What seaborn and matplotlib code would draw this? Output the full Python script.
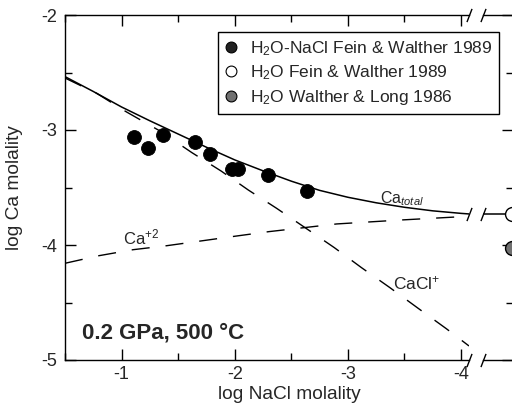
import numpy as np
import pandas as pd
import matplotlib
matplotlib.use('Agg')
import matplotlib.pyplot as plt
import matplotlib.transforms as mtransforms
from matplotlib.lines import Line2D
from matplotlib.ticker import MultipleLocator, FormatStrFormatter
import seaborn as sns

# ---------------- data ----------------
nacl_points = [-1.11, -1.23, -1.37, -1.65, -1.78, -1.98, -2.03, -2.29, -2.64]
ca_points = [-3.06, -3.16, -3.04, -3.10, -3.21, -3.34, -3.34, -3.39, -3.53]

catotal_x = [-0.5, -0.75, -1.0, -1.25, -1.5, -1.75, -2.0, -2.25, -2.5, -2.75,
             -3.0, -3.25, -3.5, -3.75, -4.0, -4.07]
catotal_y = [-2.536, -2.665, -2.80, -2.92, -3.035, -3.15, -3.26, -3.355, -3.445,
             -3.525, -3.585, -3.633, -3.672, -3.703, -3.725, -3.73]

ca2_x = [-0.5, -0.8, -1.1, -1.4, -1.7, -2.0, -2.3, -2.9, -3.46, -4.0, -4.07]
ca2_y = [-4.159, -4.093, -4.041, -4.006, -3.965, -3.924, -3.884, -3.817, -3.783,
         -3.754, -3.748]

cacl_x = [-0.5, -0.78, -1.04, -1.34, -1.62, -1.88, -2.12, -2.37, -2.63, -2.88,
          -3.12, -3.37, -3.62, -3.87, -4.07]
cacl_y = [-2.548, -2.681, -2.841, -3.009, -3.196, -3.357, -3.522, -3.681, -3.855,
          -4.023, -4.197, -4.370, -4.550, -4.728, -4.878]

water_x = [0.0]
water_fw_ca = [-3.73]   # H2O Fein & Walther 1989
water_wl_ca = [-4.03]   # H2O Walther & Long 1986

x_ticks = [-1, -2, -3, -4]
y_ticks = [-2, -3, -4, -5]
legend_labels = [r'H$_2$O-NaCl Fein & Walther 1989',
                 r'H$_2$O Fein & Walther 1989',
                 r'H$_2$O Walther & Long 1986']

# ---------------- style ----------------
sns.set_theme(style='ticks')
plt.rcParams['font.family'] = ['Liberation Sans', 'DejaVu Sans']
plt.rcParams['mathtext.fontset'] = 'custom'
plt.rcParams['mathtext.rm'] = 'Liberation Sans'
plt.rcParams['mathtext.it'] = 'Liberation Sans:italic'
plt.rcParams['mathtext.bf'] = 'Liberation Sans:bold'
plt.rcParams['axes.unicode_minus'] = False

W, H = 512, 408
fig = plt.figure(figsize=(W / 100, H / 100), dpi=100)
fig.patch.set_facecolor('white')
ax2 = fig.add_axes([483 / W, 48 / H, 30 / W, 345 / H])
ax = fig.add_axes([65 / W, 48 / H, 404 / W, 345 / H])
ax2.set_zorder(1)
ax2.patch.set_alpha(0)
ax.set_zorder(3)
ax.patch.set_alpha(0)

dash = (0, (13, 11.5))

# main panel curves
sns.lineplot(x=catotal_x, y=catotal_y, ax=ax, color='black', lw=1.1,
             sort=False, estimator=None)
sns.lineplot(x=ca2_x, y=ca2_y, ax=ax, color='black', lw=1.0,
             sort=False, estimator=None)
ax.lines[-1].set_linestyle(dash)
sns.lineplot(x=cacl_x, y=cacl_y, ax=ax, color='black', lw=1.0,
             sort=False, estimator=None)
ax.lines[-1].set_linestyle(dash)

sns.scatterplot(x=nacl_points, y=ca_points, ax=ax, s=100, color='black',
                edgecolor='black', linewidth=0.6, zorder=4)

ax.set_xlim(-0.5, -4.07)
ax.set_ylim(-5, -2)
ax.xaxis.set_major_locator(plt.FixedLocator(x_ticks))
ax.xaxis.set_minor_locator(MultipleLocator(0.5))
ax.yaxis.set_major_locator(plt.FixedLocator(y_ticks))
ax.yaxis.set_minor_locator(MultipleLocator(0.5))
ax.xaxis.set_major_formatter(FormatStrFormatter('%d'))
ax.yaxis.set_major_formatter(FormatStrFormatter('%d'))
ax.tick_params(which='both', direction='in', top=True, right=False,
               width=1.0, color='black', labelsize=13)
ax.tick_params(which='major', length=8)
ax.tick_params(which='minor', length=4.8)
ax.tick_params(axis='x', pad=4)
ax.tick_params(axis='y', pad=6)
ax.spines['right'].set_visible(False)
for s in ['left', 'top', 'bottom']:
    ax.spines[s].set_linewidth(1.0)
    ax.spines[s].set_color('black')

ax.set_xlabel('log NaCl molality', fontsize=13.8)
ax.xaxis.set_label_coords((289 - 65) / 404, -0.075)
ax.set_ylabel('log Ca molality', fontsize=13.8)
ax.yaxis.set_label_coords(-0.103, 0.5)

# labels on curves
ax.text(-3.283, -3.635, r'Ca$_{\mathit{total}}$', fontsize=11.5, va='baseline')
ax.text(-1.009, -3.991, r'Ca$^{+2}$', fontsize=12, va='baseline')
ax.text(-3.398, -4.383, r'CaCl$^{+}$', fontsize=12.5, va='baseline')
ax.text(0.042, 0.061, '0.2 GPa, 500 °C', transform=ax.transAxes,
        fontsize=16, fontweight='bold', va='baseline', ha='left')

# ---------------- right (pure water) panel ----------------
ax2.set_xlim(-1, 0.05)
ax2.set_ylim(-5, -2)
sns.lineplot(x=[ax2.get_xlim()[0], water_x[0]], y=[water_fw_ca[0], water_fw_ca[0]],
             ax=ax2, color='black', lw=1.1, sort=False, estimator=None)
sns.scatterplot(x=water_x, y=water_fw_ca, ax=ax2, s=100, color='white',
                edgecolor='black', linewidth=1.0, zorder=4, clip_on=False)
sns.scatterplot(x=water_x, y=water_wl_ca, ax=ax2, s=100, color='#707070',
                edgecolor='black', linewidth=1.0, zorder=4, clip_on=False)
ax2.spines['left'].set_visible(False)
for s in ['right', 'top', 'bottom']:
    ax2.spines[s].set_linewidth(1.0)
    ax2.spines[s].set_color('black')
ax2.set_xticks([])
ax2.yaxis.set_major_locator(plt.FixedLocator(y_ticks))
ax2.yaxis.set_minor_locator(MultipleLocator(0.5))
ax2.tick_params(which='both', direction='in', left=False, right=True,
                labelleft=False, labelright=False, width=1.0, color='black')
ax2.tick_params(which='major', length=8)
ax2.tick_params(which='minor', length=4.8)
ax2.set_xlabel('')
ax2.set_ylabel('')

# ---------------- break marks ----------------
d = 2.6
bk = dict(marker=[(-1, -d), (1, d)], markersize=9.5, linestyle='none',
          color='black', mec='black', mew=1.0, clip_on=False, zorder=5)
ax.plot([1, 1], [0, 1], transform=ax.transAxes, **bk)
ax2.plot([0, 0], [0, 1], transform=ax2.transAxes, **bk)
t1 = mtransforms.blended_transform_factory(ax.transAxes, ax.transData)
ax.plot([1], [catotal_y[-1]], transform=t1, **bk)
t2 = mtransforms.blended_transform_factory(ax2.transAxes, ax2.transData)
ax2.plot([0], [water_fw_ca[0]], transform=t2, **bk)

# ---------------- legend ----------------
handles = [
    Line2D([], [], marker='o', ls='none', ms=7.8, mfc='#222222', mec='black', mew=0.8),
    Line2D([], [], marker='o', ls='none', ms=7.8, mfc='white', mec='black', mew=0.8),
    Line2D([], [], marker='o', ls='none', ms=7.8, mfc='#707070', mec='black', mew=0.8),
]
leg = ax.legend(handles, legend_labels, loc='upper right',
                bbox_to_anchor=((499 - 65) / 404, (360 - 32) / 345),
                borderaxespad=0, fontsize=12.5, frameon=True, fancybox=False,
                framealpha=1, edgecolor='black', borderpad=0.4,
                handlelength=0.6, handletextpad=0.8, labelspacing=0.33)
leg.get_frame().set_linewidth(1.0)
leg.set_zorder(6)

fig.savefig('out.png', dpi=100, facecolor='white')
